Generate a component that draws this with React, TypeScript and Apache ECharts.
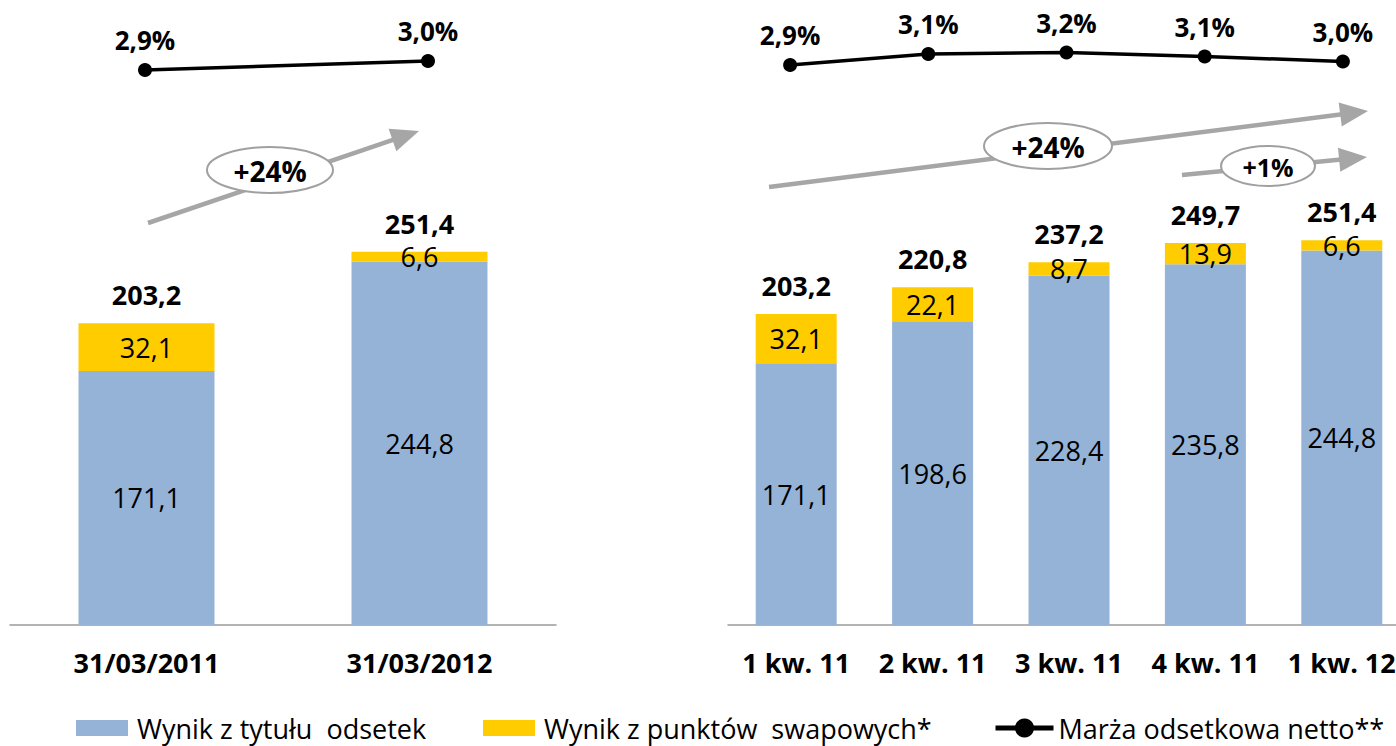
import React, { useEffect, useRef } from "react";
import * as echarts from "echarts";

// ---- data ----
const leftCategories = ["31/03/2011", "31/03/2012"];
const leftInterest = [171.1, 244.8];
const leftSwap = [32.1, 6.6];
const leftTotals = [203.2, 251.4];
const leftMargin = [2.91, 2.98];

const rightCategories = ["1 kw. 11", "2 kw. 11", "3 kw. 11", "4 kw. 11", "1 kw. 12"];
const rightInterest = [171.1, 198.6, 228.4, 235.8, 244.8];
const rightSwap = [32.1, 22.1, 8.7, 13.9, 6.6];
const rightTotals = [203.2, 220.8, 237.2, 249.7, 251.4];
const rightMargin = [2.91, 3.13, 3.16, 3.08, 2.98];

const SERIES_INTEREST = "Wynik z tytułu  odsetek";
const SERIES_SWAP = "Wynik z punktów  swapowych*";
const SERIES_MARGIN = "Marża odsetkowa netto**";

const FONT = "'Open Sans', 'DejaVu Sans', sans-serif";
const BLUE = "#95b3d7";
const YELLOW = "#ffcc00";
const GREY = "#a6a6a6";

const fmt = (v: number, d = 1) => v.toFixed(d).replace(".", ",");

function arrow(sx: number, sy: number, tx: number, ty: number) {
  const dx = tx - sx;
  const dy = ty - sy;
  const len = Math.sqrt(dx * dx + dy * dy);
  const ux = dx / len;
  const uy = dy / len;
  const L = 28;
  const W = 12;
  const bx = tx - ux * L;
  const by = ty - uy * L;
  const nx = -uy;
  const ny = ux;
  return [
    {
      type: "line",
      shape: { x1: sx, y1: sy, x2: bx + ux * 2, y2: by + uy * 2 },
      style: { stroke: GREY, lineWidth: 4.5 },
      z: 1,
    },
    {
      type: "polygon",
      shape: {
        points: [
          [tx, ty],
          [bx + nx * W, by + ny * W],
          [bx - nx * W, by - ny * W],
        ],
      },
      style: { fill: GREY },
      z: 1,
    },
  ];
}

function badge(cx: number, cy: number, rx: number, ry: number, text: string, size: number) {
  return [
    {
      type: "ellipse",
      shape: { cx, cy, rx, ry },
      style: { fill: "#ffffff", stroke: "#a0a0a0", lineWidth: 2 },
      z: 2,
    },
    {
      type: "text",
      x: cx,
      y: cy + 1,
      style: {
        text,
        fill: "#000",
        font: `bold ${size}px ${FONT}`,
        align: "center",
        verticalAlign: "middle",
      },
      z: 3,
    },
  ];
}

export default function App() {
  const ref = useRef<HTMLDivElement>(null);

  useEffect(() => {
    document.body.style.margin = "0";
    if (!ref.current) return;
    const chart = echarts.init(ref.current, null, { renderer: "svg" });

    const insideLabel = {
      show: true,
      position: "inside",
      color: "#000",
      fontFamily: FONT,
      fontSize: 27,
      formatter: (p: any) => fmt(p.value),
    };
    const totalLabel = (totals: number[]) => ({
      show: true,
      position: "top",
      distance: 15,
      color: "#000",
      fontFamily: FONT,
      fontWeight: "bold",
      fontSize: 27,
      formatter: (p: any) => fmt(totals[p.dataIndex]),
    });
    const lineLabel = {
      show: true,
      position: "top",
      distance: 10,
      color: "#000",
      fontFamily: FONT,
      fontWeight: "bold",
      fontSize: 26,
      formatter: (p: any) => fmt(p.value) + "%",
    };

    const catAxis = (gridIndex: number, data: string[], show: boolean) => ({
      type: "category",
      gridIndex,
      data,
      boundaryGap: true,
      axisLine: show ? { show: true, lineStyle: { color: "#9a9a9a", width: 1.5 } } : { show: false },
      axisTick: { show: false },
      axisLabel: show
        ? {
            show: true,
            interval: 0,
            hideOverlap: false,
            color: "#000",
            fontFamily: FONT,
            fontWeight: "bold",
            fontSize: 27,
            margin: 24,
          }
        : { show: false },
      splitLine: { show: false },
    });
    const valAxis = (gridIndex: number, min: number, max: number) => ({
      type: "value",
      gridIndex,
      min,
      max,
      show: false,
      splitLine: { show: false },
    });

    const legendText = {
      fontFamily: FONT,
      fontSize: 27,
      color: "#000",
      lineHeight: 28,
      padding: [0, 0, 0, 4],
    };

    const option: any = {
      animation: false,
      backgroundColor: "#ffffff",
      textStyle: { fontFamily: FONT },
      grid: [
        { left: 10, width: 546, top: 179.5, height: 445.5, outerBoundsMode: "none" },
        { left: 728, right: -14, top: 166, height: 459, outerBoundsMode: "none" },
        { left: 3.5, width: 566, top: 45.6, height: 51.4, outerBoundsMode: "none" },
        { left: 721, right: -16, top: 45.5, height: 30, outerBoundsMode: "none" },
      ],
      xAxis: [
        catAxis(0, leftCategories, true),
        catAxis(1, rightCategories, true),
        catAxis(2, leftCategories, false),
        catAxis(3, rightCategories, false),
      ],
      yAxis: [
        valAxis(0, 0, 300),
        valAxis(1, 0, 300),
        valAxis(2, 2.7, 3.1),
        valAxis(3, 2.7, 3.3),
      ],
      legend: [
        {
          data: [SERIES_INTEREST],
          left: 76,
          top: 714,
          padding: 0,
          itemWidth: 52,
          itemHeight: 16,
          icon: "rect",
          textStyle: legendText,
        },
        {
          data: [SERIES_SWAP],
          left: 483,
          top: 714,
          padding: 0,
          itemWidth: 52,
          itemHeight: 16,
          icon: "rect",
          textStyle: legendText,
        },
        {
          data: [SERIES_MARGIN],
          left: 993,
          top: 714,
          padding: 0,
          itemWidth: 58,
          itemHeight: 24,
          lineStyle: { width: 5 },
          textStyle: { ...legendText, padding: [0, 0, 0, 0] },
        },
      ],
      series: [
        {
          name: SERIES_INTEREST,
          type: "bar",
          xAxisIndex: 0,
          yAxisIndex: 0,
          stack: "left",
          barWidth: 136,
          barGap: "-100%",
          data: leftInterest,
          itemStyle: { color: BLUE },
          label: insideLabel,
        },
        {
          name: SERIES_SWAP,
          type: "bar",
          xAxisIndex: 0,
          yAxisIndex: 0,
          stack: "left",
          barWidth: 136,
          barGap: "-100%",
          data: leftSwap,
          itemStyle: { color: YELLOW },
          label: insideLabel,
        },
        {
          name: "Razem L",
          type: "bar",
          xAxisIndex: 0,
          yAxisIndex: 0,
          barWidth: 136,
          barGap: "-100%",
          data: leftTotals,
          itemStyle: { color: "rgba(0,0,0,0)" },
          label: totalLabel(leftTotals),
          z: 1,
        },
        {
          name: SERIES_INTEREST,
          type: "bar",
          xAxisIndex: 1,
          yAxisIndex: 1,
          stack: "right",
          barWidth: 81,
          barGap: "-100%",
          data: rightInterest,
          itemStyle: { color: BLUE },
          label: insideLabel,
        },
        {
          name: SERIES_SWAP,
          type: "bar",
          xAxisIndex: 1,
          yAxisIndex: 1,
          stack: "right",
          barWidth: 81,
          barGap: "-100%",
          data: rightSwap,
          itemStyle: { color: YELLOW },
          label: insideLabel,
        },
        {
          name: "Razem P",
          type: "bar",
          xAxisIndex: 1,
          yAxisIndex: 1,
          barWidth: 81,
          barGap: "-100%",
          data: rightTotals,
          itemStyle: { color: "rgba(0,0,0,0)" },
          label: totalLabel(rightTotals),
          z: 1,
        },
        {
          name: SERIES_MARGIN,
          type: "line",
          xAxisIndex: 2,
          yAxisIndex: 2,
          data: leftMargin,
          symbol: "circle",
          symbolSize: 14,
          lineStyle: { color: "#000", width: 3.5 },
          itemStyle: { color: "#000" },
          label: lineLabel,
        },
        {
          name: SERIES_MARGIN,
          type: "line",
          xAxisIndex: 3,
          yAxisIndex: 3,
          data: rightMargin,
          symbol: "circle",
          symbolSize: 14,
          lineStyle: { color: "#000", width: 3.5 },
          itemStyle: { color: "#000" },
          label: lineLabel,
        },
      ],
      graphic: [
        ...arrow(148, 223, 419, 131),
        ...badge(270, 170, 63, 23, "+24%", 28),
        ...arrow(769, 187, 1368, 111),
        ...badge(1048, 146, 64, 23, "+24%", 28),
        ...arrow(1182, 175, 1367, 157),
        ...badge(1268, 166, 47, 20, "+1%", 25),
      ],
    };

    chart.setOption(option);
    return () => chart.dispose();
  }, []);

  return <div ref={ref} style={{ width: 1396, height: 746 }} />;
}
